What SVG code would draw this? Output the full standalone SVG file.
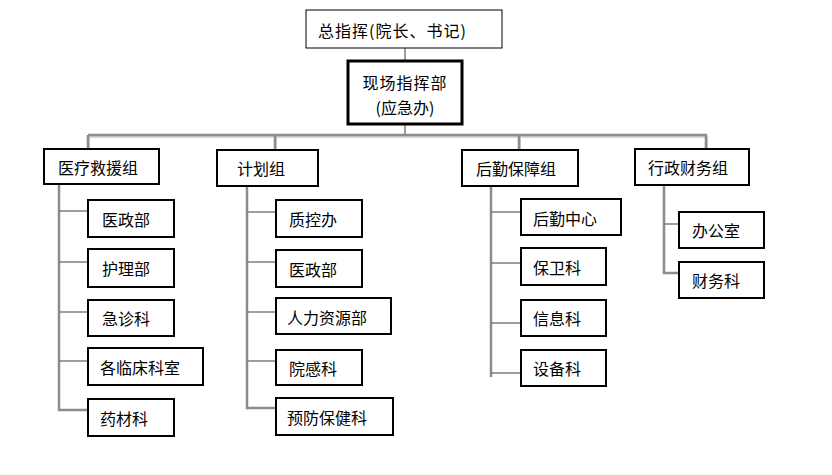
<svg xmlns="http://www.w3.org/2000/svg" width="832" height="475" viewBox="0 0 832 475">
<style>
.b{fill:#fff;stroke:#000;stroke-width:2}
.t{font-family:"Noto Sans CJK SC","Noto Sans",sans-serif;font-size:16px;fill:#000;dominant-baseline:central}
.ln{fill:none;stroke:#7f7f7f;stroke-width:1.5}
.sp{fill:none;stroke:#8c8c8c;stroke-width:2.5}
.sh{fill:none;stroke:#c8c8c8;stroke-width:1.5}
</style>
<rect width="832" height="475" fill="#fff"/>
<g id="connectors">
<path class="ln" d="M405 48V61M405 124V135"/>
<path class="sh" d="M89 137H707V149M89 137V149M276 137V150M520 137V150"/>
<path class="sp" d="M88 135H706V149M88 135V149M275 135V150M519 135V150"/>
<path class="sp" d="M59 184V410H88M247 186V408H276M491 186V377M664 185V273H679"/>
<path class="ln" d="M59 211H88M59 262H88M59 312H88M59 361H88M247 212H276M247 262H276M247 312H276M247 361H276M491 212H521M491 263H521M491 323H521M491 373H521M664 224H679"/>
</g>
<g id="n-top"><rect x="306" y="10" width="196" height="38" fill="#fff" stroke="#000" stroke-width="1"/><text class="t" x="318" y="30" letter-spacing="1">总指挥(院长、书记)</text></g>
<g id="n-hq"><rect x="348" y="61" width="114" height="63" fill="#fff" stroke="#000" stroke-width="3"/><text class="t" x="405" y="82" text-anchor="middle" letter-spacing="1">现场指挥部</text><text class="t" x="405" y="107" text-anchor="middle">(应急办)</text></g>
<g id="n-g1"><rect class="b" x="44" y="149" width="115" height="35"/><text class="t" x="58" y="167">医疗救援组</text></g>
<g id="n-g2"><rect class="b" x="217" y="150" width="101" height="36"/><text class="t" x="237" y="168">计划组</text></g>
<g id="n-g3"><rect class="b" x="462" y="150" width="116" height="36"/><text class="t" x="476" y="168">后勤保障组</text></g>
<g id="n-g4"><rect class="b" x="635" y="149" width="114" height="36"/><text class="t" x="648" y="167">行政财务组</text></g>
<g id="n-a1"><rect class="b" x="88" y="200" width="86" height="37"/><text class="t" x="102" y="219">医政部</text></g>
<g id="n-a2"><rect class="b" x="88" y="249" width="86" height="38"/><text class="t" x="102" y="268">护理部</text></g>
<g id="n-a3"><rect class="b" x="88" y="300" width="86" height="36"/><text class="t" x="102" y="318">急诊科</text></g>
<g id="n-a4"><rect class="b" x="88" y="348" width="115" height="37"/><text class="t" x="100" y="367">各临床科室</text></g>
<g id="n-a5"><rect class="b" x="88" y="399" width="86" height="37"/><text class="t" x="100" y="418">药材科</text></g>
<g id="n-b1"><rect class="b" x="276" y="200" width="86" height="37"/><text class="t" x="289" y="219">质控办</text></g>
<g id="n-b2"><rect class="b" x="276" y="250" width="86" height="37"/><text class="t" x="289" y="269">医政部</text></g>
<g id="n-b3"><rect class="b" x="276" y="298" width="115" height="36"/><text class="t" x="287" y="317">人力资源部</text></g>
<g id="n-b4"><rect class="b" x="276" y="350" width="86" height="35"/><text class="t" x="289" y="368">院感科</text></g>
<g id="n-b5"><rect class="b" x="276" y="398" width="117" height="37"/><text class="t" x="287" y="417">预防保健科</text></g>
<g id="n-c1"><rect class="b" x="521" y="199" width="100" height="36"/><text class="t" x="533" y="218">后勤中心</text></g>
<g id="n-c2"><rect class="b" x="521" y="248" width="85" height="37"/><text class="t" x="533" y="267">保卫科</text></g>
<g id="n-c3"><rect class="b" x="521" y="300" width="85" height="36"/><text class="t" x="533" y="318">信息科</text></g>
<g id="n-c4"><rect class="b" x="521" y="350" width="85" height="36"/><text class="t" x="533" y="368">设备科</text></g>
<g id="n-d1"><rect class="b" x="679" y="212" width="85" height="36"/><text class="t" x="692" y="230">办公室</text></g>
<g id="n-d2"><rect class="b" x="679" y="262" width="85" height="36"/><text class="t" x="692" y="280">财务科</text></g>
</svg>
